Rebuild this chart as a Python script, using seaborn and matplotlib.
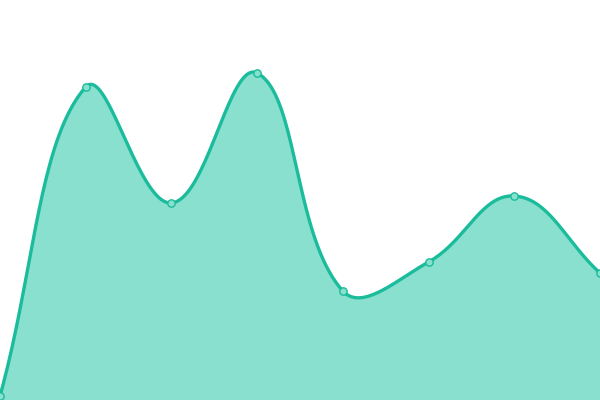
import numpy as np
import pandas as pd
import matplotlib
matplotlib.use("Agg")
import matplotlib.pyplot as plt
import seaborn as sns

# valores (altura em px a partir da base)
posicoes = [0, 1, 2, 3, 4, 5, 6, 7]
valores = [4, 313, 197, 327, 109, 138, 204, 127]

cor_linha = "#1abc9c"
cor_area = "#89e0cf"

W, H = 600, 400
escala_x = W / (len(posicoes) - 1)


def curva_suave(xs, ys, tensao=0.4, passos=40):
    # spline no estilo Chart.js (distâncias em pixels)
    px = np.array(xs, float) * escala_x
    py = np.array(ys, float)
    n = len(px)
    ctrl_ant = np.zeros((n, 2))
    ctrl_prox = np.zeros((n, 2))
    for i in range(n):
        a = np.array([px[max(i - 1, 0)], py[max(i - 1, 0)]])
        b = np.array([px[i], py[i]])
        c = np.array([px[min(i + 1, n - 1)], py[min(i + 1, n - 1)]])
        d01 = np.hypot(*(b - a))
        d12 = np.hypot(*(c - b))
        tot = d01 + d12 if d01 + d12 > 0 else 1
        fa = tensao * d01 / tot
        fb = tensao * d12 / tot
        ctrl_ant[i] = b - fa * (c - a)
        ctrl_prox[i] = b + fb * (c - a)
    cx, cy = [], []
    t = np.linspace(0, 1, passos)
    for i in range(n - 1):
        p0 = np.array([px[i], py[i]])
        p1 = ctrl_prox[i]
        p2 = ctrl_ant[i + 1]
        p3 = np.array([px[i + 1], py[i + 1]])
        seg = ((1 - t) ** 3)[:, None] * p0 + (3 * (1 - t) ** 2 * t)[:, None] * p1 \
            + (3 * (1 - t) * t ** 2)[:, None] * p2 + (t ** 3)[:, None] * p3
        cx.extend(seg[:, 0] / escala_x)
        cy.extend(seg[:, 1])
    return np.array(cx), np.array(cy)


sns.set_style("white")
fig = plt.figure(figsize=(6, 4), dpi=100)
ax = fig.add_axes([0, 0, 1, 1])

cx, cy = curva_suave(posicoes, valores)
df_curva = pd.DataFrame({"x": cx, "y": cy})
df_pontos = pd.DataFrame({"x": posicoes, "y": valores})

ax.fill_between(cx, 0, cy, color=cor_area, linewidth=0)
sns.lineplot(data=df_curva, x="x", y="y", ax=ax, color=cor_linha, linewidth=2.4,
             sort=False, estimator=None)
sns.scatterplot(data=df_pontos, x="x", y="y", ax=ax, s=28, color=cor_area,
                edgecolor=cor_linha, linewidth=1, zorder=5)

ax.set_xlim(0, 7)
ax.set_ylim(0, H)
ax.axis("off")
fig.savefig("out.png", dpi=100)
